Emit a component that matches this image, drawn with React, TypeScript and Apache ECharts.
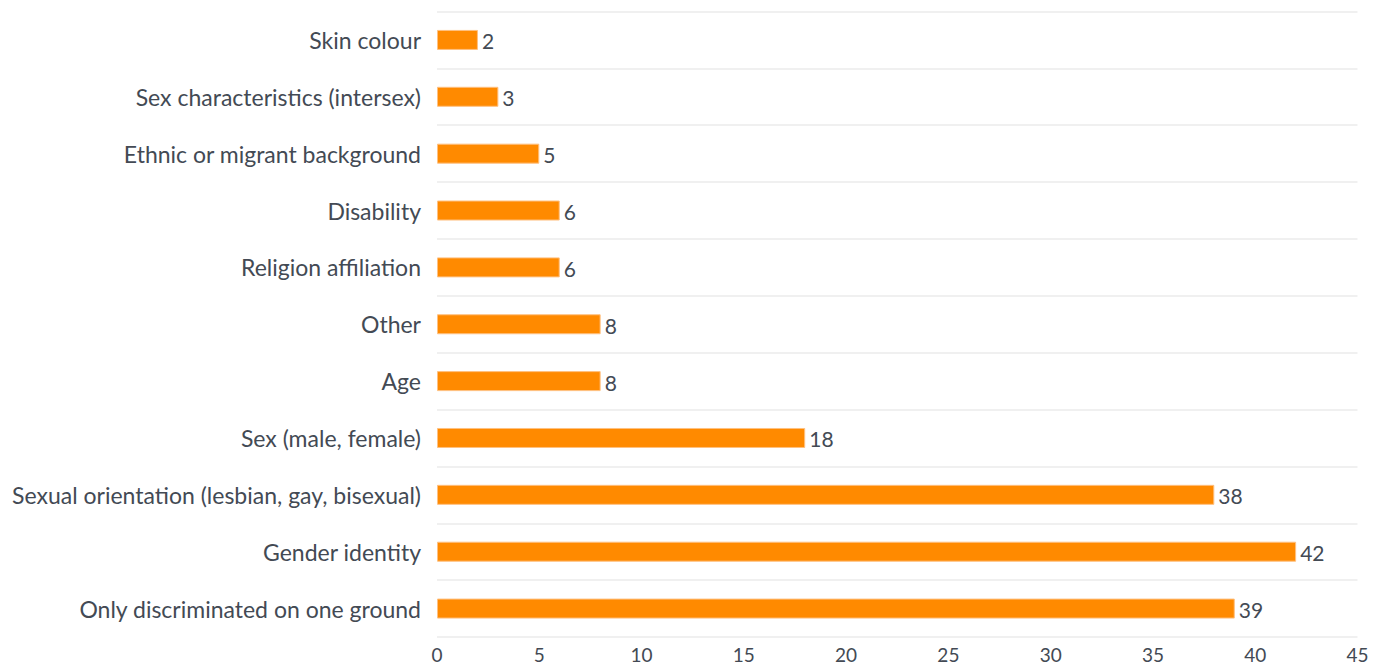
import React, { useEffect, useRef } from "react";
import * as echarts from "echarts";

const categories = [
  "Skin colour",
  "Sex characteristics (intersex)",
  "Ethnic or migrant background",
  "Disability",
  "Religion affiliation",
  "Other",
  "Age",
  "Sex (male, female)",
  "Sexual orientation (lesbian, gay, bisexual)",
  "Gender identity",
  "Only discriminated on one ground",
];
const values = [2, 3, 5, 6, 6, 8, 8, 18, 38, 42, 39];

const TEXT = "#434a54";
const FONT = "Lato, 'Noto Sans', sans-serif";

export default function App() {
  const ref = useRef<HTMLDivElement>(null);
  useEffect(() => {
    if (!ref.current) return;
    const chart = echarts.init(ref.current, undefined, { renderer: "svg" });
    chart.setOption({
      animation: false,
      grid: { left: 437, right: 26.5, top: 11.5, bottom: 28, containLabel: false },
      xAxis: {
        type: "value",
        min: 0,
        max: 45,
        interval: 5,
        axisLine: { show: false },
        axisTick: { show: false },
        splitLine: { show: false },
        axisLabel: { color: TEXT, fontSize: 19, fontFamily: FONT, margin: 8 },
      },
      yAxis: {
        type: "category",
        data: categories,
        inverse: true,
        axisLine: { show: false },
        axisTick: { show: false },
        splitLine: { show: true, lineStyle: { color: "#ebebeb", width: 1.5 } },
        axisLabel: {
          color: TEXT,
          fontSize: 23,
          fontFamily: FONT,
          margin: 16,
          verticalAlign: "middle",
          lineHeight: 23,
          padding: [0, 0, 4, 0],
        },
      },
      series: [
        {
          type: "bar",
          data: values,
          barWidth: 20,
          itemStyle: { color: "#ff8a00", borderColor: "#ffc080", borderWidth: 1 },
          label: {
            show: true,
            position: "right",
            distance: 4,
            color: TEXT,
            fontSize: 21,
            fontFamily: FONT,
            offset: [0, 1],
          },
        },
      ],
    });
    return () => chart.dispose();
  }, []);
  return (
    <div
      ref={ref}
      style={{ position: "absolute", left: 0, top: 0, width: 1384, height: 665, background: "#fff" }}
    />
  );
}
